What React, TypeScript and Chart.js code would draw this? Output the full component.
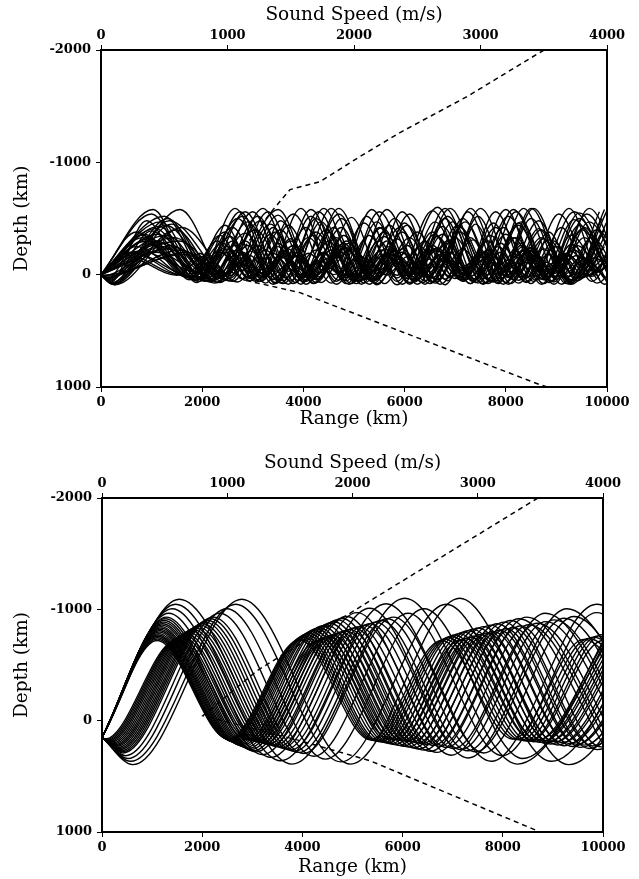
import React, { useEffect, useRef } from 'react';
import { Chart, registerables } from 'chart.js';

Chart.register(...registerables);

// ---------- tick labels ----------
const rangeTicks = [0, 2000, 4000, 6000, 8000, 10000];
const speedTicks = [0, 1000, 2000, 3000, 4000];
const depthTicks = [-2000, -1000, 0, 1000];

// ---------- sound speed profiles (speed m/s, depth km) ----------
const topProfileSpeed = [3502, 2893, 2364, 2047, 1731, 1494, 1360, 1000, 1123, 1573, 3470, 3530];
const topProfileDepth = [-2000, -1585, -1265, -1051, -828, -757, -579, -50, 45, 160, 980, 1000];
const bottomProfileSpeed = [3480, 2116, 1238, 806, 1581, 2140, 3473, 3490];
const bottomProfileDepth = [-2000, -1060, -449, -45, 180, 360, 988, 1000];

// ---------- ray turning points, upper panel (range km, depth km pairs) ----------
const topRays: number[][] = [
  [0, 0, 1030, -580, 1850, 50, 2600, -420, 3250, 75, 3950, -590, 4650, 85, 5300, -350, 5850, 30, 6550, -570, 7300, 80, 7950, -420, 8550, 60, 9250, -590, 9950, 85, 10600, -450],
  [0, 0, 220, 85, 1560, -580, 2500, 40, 3500, -580, 4250, 70, 4850, -300, 5400, 45, 6100, -540, 6800, 90, 7500, -590, 8250, 75, 8850, -310, 9400, 30, 10050, -520],
  [0, 0, 1250, -520, 2150, 65, 2900, -470, 3600, 55, 4300, -560, 5050, 80, 5700, -440, 6350, 70, 7000, -330, 7550, 40, 8200, -560, 8950, 85, 9650, -470, 10300, 60],
  [0, 0, 180, 70, 900, -480, 1750, 45, 2450, -380, 3050, 60, 3800, -540, 4550, 75, 5200, -460, 5850, 90, 6650, -600, 7400, 70, 8000, -360, 8600, 50, 9350, -560, 10100, 80],
  [0, 0, 260, 90, 1400, -450, 2300, 70, 3100, -520, 3800, 80, 4450, -400, 5050, 55, 5700, -250, 6150, 20, 6800, -500, 7450, 75, 8150, -580, 8900, 60, 9500, -400, 10100, 50],
  [0, 0, 1150, -430, 2000, 30, 2750, -560, 3450, 80, 4100, -330, 4700, 50, 5350, -580, 6100, 85, 6750, -430, 7350, 55, 7900, -280, 8400, 30, 9050, -540, 9800, 75, 10400, -300],
  [0, 0, 700, -380, 1700, 20, 2300, -300, 2850, 50, 3400, -420, 4000, 60, 4550, -250, 5000, 20, 5600, -380, 6200, 55, 6800, -200, 7200, 10, 7800, -420, 8400, 60, 8950, -300, 9450, 30, 10000, -380],
  [0, 0, 120, 40, 800, -350, 1800, 35, 2350, -220, 2800, 40, 3350, -360, 3900, 50, 4400, -190, 4800, 15, 5300, -350, 5850, 60, 6400, -300, 6900, 30, 7400, -450, 8000, 70, 8500, -240, 8950, 20, 9550, -420, 10150, 55],
  [0, 0, 950, -320, 1900, 50, 2550, -340, 3150, 60, 3650, -180, 4050, 20, 4600, -420, 5200, 75, 5750, -220, 6200, 25, 6750, -360, 7350, 60, 7900, -200, 8300, 20, 8850, -380, 9400, 55, 9950, -250],
  [0, 0, 150, 50, 1100, -300, 2000, 45, 2650, -260, 3150, 30, 3700, -440, 4350, 70, 4900, -280, 5450, 40, 6000, -460, 6600, 75, 7150, -230, 7650, 35, 8250, -460, 8850, 70, 9400, -260, 9950, 35],
  [0, 0, 1250, -280, 2100, 55, 2700, -220, 3200, 25, 3750, -320, 4250, 45, 4750, -200, 5150, 15, 5650, -300, 6200, 45, 6700, -180, 7100, 20, 7700, -350, 8250, 50, 8750, -230, 9200, 25, 9800, -400, 10400, 60],
  [0, 0, 100, 30, 1400, -260, 2200, 40, 2800, -180, 3250, 10, 3800, -260, 4300, 35, 4800, -350, 5350, 60, 5900, -160, 6300, 10, 6850, -280, 7350, 40, 7800, -160, 8200, 15, 8750, -320, 9300, 50, 9850, -200],
  [0, 0, 1500, -240, 2250, 50, 2850, -300, 3400, 45, 3900, -200, 4300, 20, 4850, -240, 5350, 35, 5850, -320, 6400, 55, 6900, -200, 7300, 15, 7850, -250, 8350, 40, 8850, -180, 9250, 15, 9800, -300],
  [0, 0, 80, 25, 1600, -220, 2350, 30, 2850, -150, 3250, 10, 3700, -230, 4150, 30, 4650, -160, 5050, 10, 5550, -220, 6050, 35, 6550, -260, 7100, 45, 7600, -140, 8000, 10, 8500, -240, 9000, 40, 9500, -150, 9950, 15],
  [0, 0, 600, -200, 1650, 10, 2100, -150, 2450, 0, 2850, -130, 3200, -10, 3600, -160, 3950, 5, 4350, -120, 4700, -10, 5100, -170, 5500, 10, 5900, -140, 6250, 0, 6650, -150, 7050, 10, 7450, -130, 7800, -5, 8200, -160, 8600, 15, 9000, -120, 9350, 0, 9750, -150, 10150, 10],
  [0, 0, 650, -190, 1800, 15, 2200, -120, 2550, 10, 2950, -170, 3350, 15, 3750, -110, 4100, 0, 4500, -150, 4900, 20, 5300, -120, 5650, 5, 6050, -160, 6450, 15, 6850, -120, 7200, 0, 7600, -150, 8000, 15, 8400, -110, 8750, 0, 9150, -160, 9550, 20, 9950, -120],
  [0, 0, 60, 15, 1700, -200, 2400, 20, 2750, -100, 3100, 0, 3500, -140, 3900, 20, 4250, -100, 4600, 0, 5000, -130, 5400, 20, 5750, -110, 6100, 0, 6500, -140, 6900, 15, 7300, -100, 7650, 0, 8050, -130, 8450, 20, 8800, -110, 9150, 0, 9550, -140, 9950, 20],
  [0, 0, 750, -210, 1950, -20, 2350, -200, 2800, -40, 3250, -220, 3700, -30, 4100, -190, 4500, -50, 4950, -230, 5400, -30, 5800, -180, 6200, -40, 6650, -220, 7100, -30, 7500, -200, 7900, -50, 8350, -220, 8800, -30, 9200, -190, 9600, -40, 10050, -210],
  [0, 0, 200, 75, 1320, -500, 2200, 55, 3000, -560, 3700, 85, 4350, -470, 5000, 60, 5600, -340, 6150, 40, 6900, -590, 7650, 80, 8300, -470, 8950, 65, 9650, -590, 10350, 85],
  [0, 0, 1080, -410, 1950, 35, 2700, -500, 3450, 70, 4150, -580, 4900, 85, 5500, -300, 6000, 35, 6600, -470, 7300, 80, 8000, -580, 8700, 85, 9300, -350, 9850, 40],
  [0, 0, 250, 80, 1480, -400, 2400, 60, 3200, -590, 3950, 85, 4700, -540, 5400, 75, 6050, -440, 6650, 60, 7250, -560, 7950, 85, 8650, -480, 9300, 70, 9950, -580],
  [0, 0, 850, -360, 1780, 25, 2450, -440, 3100, 60, 3750, -300, 4300, 40, 4950, -510, 5600, 80, 6250, -380, 6850, 55, 7450, -520, 8100, 80, 8700, -330, 9300, 45, 9900, -500],
  [0, 0, 1000, -540, 1900, 70, 2650, -590, 3400, 85, 4050, -420, 4650, 60, 5250, -520, 5950, 85, 6600, -360, 7150, 50, 7800, -560, 8500, 80, 9100, -420, 9700, 60, 10350, -560],
  [0, 0, 230, 80, 1350, -480, 2600, 60, 3350, -450, 4000, 65, 4700, -590, 5450, 90, 6100, -330, 6650, 45, 7300, -590, 8050, 85, 8700, -400, 9300, 55, 10000, -570],
  [0, 0, 900, -300, 1850, 40, 2500, -250, 3000, 30, 3550, -480, 4200, 75, 4800, -350, 5400, 55, 5950, -200, 6350, 15, 6950, -470, 7600, 75, 8200, -330, 8750, 45, 9300, -210, 9700, 15, 10250, -450],
  [0, 0, 90, 35, 1200, -250, 2050, 35, 2600, -300, 3100, 45, 3600, -200, 4000, 25, 4500, -300, 5000, 50, 5500, -420, 6100, 70, 6650, -240, 7100, 30, 7650, -300, 8150, 45, 8600, -180, 9000, 20, 9550, -330, 10100, 55],
  [0, 0, 1350, -230, 2150, 20, 2650, -170, 3050, 0, 3500, -280, 4050, 45, 4550, -220, 5000, 25, 5450, -150, 5850, 5, 6300, -250, 6800, 40, 7300, -330, 7850, 55, 8350, -210, 8800, 25, 9300, -270, 9800, 40],
  [0, 0, 550, -170, 1550, 0, 2000, -160, 2400, 10, 2800, -200, 3200, 20, 3600, -150, 3950, 0, 4400, -200, 4850, 25, 5250, -140, 5600, 0, 6000, -190, 6400, 20, 6800, -160, 7150, 0, 7600, -200, 8050, 25, 8450, -140, 8800, 0, 9200, -180, 9600, 15, 10000, -140],
  [0, 0, 40, 10, 1100, -200, 2050, -10, 2500, -230, 2950, -20, 3400, -190, 3800, -40, 4250, -220, 4700, -20, 5100, -170, 5500, -40, 5950, -230, 6400, -20, 6800, -180, 7200, -40, 7650, -220, 8100, -20, 8500, -180, 8900, -40, 9350, -220, 9800, -20, 10200, -180],
  [0, 0, 160, 60, 1000, -390, 1950, 60, 2800, -520, 3550, 75, 4200, -350, 4800, 50, 5500, -560, 6250, 85, 6850, -300, 7400, 40, 8050, -520, 8750, 80, 9450, -550, 10150, 80],
  [0, 0, 1300, -350, 2250, 75, 3050, -400, 3750, 55, 4400, -590, 5150, 85, 5800, -500, 6500, 80, 7100, -380, 7700, 55, 8350, -590, 9100, 85, 9700, -330, 10250, 40],
  [0, 0, 1450, -330, 2450, 45, 3100, -260, 3650, 30, 4250, -500, 4950, 80, 5650, -580, 6400, 85, 7050, -440, 7700, 65, 8300, -280, 8800, 30, 9450, -500, 10100, 75],
  [0, 0, 280, 90, 1600, -420, 2700, 65, 3500, -530, 4200, 80, 4800, -280, 5300, 30, 5900, -420, 6550, 70, 7150, -500, 7850, 80, 8500, -590, 9250, 85, 9900, -380],
  [0, 0, 700, -250, 1750, 25, 2350, -350, 2950, 55, 3500, -250, 3950, 30, 4500, -380, 5100, 60, 5600, -180, 6000, 10, 6550, -380, 7150, 60, 7650, -220, 8100, 25, 8650, -410, 9250, 65, 9800, -250],
  [0, 0, 1180, -470, 2050, 60, 2850, -560, 3600, 80, 4250, -380, 4850, 55, 5450, -470, 6100, 75, 6800, -590, 7550, 85, 8150, -330, 8700, 40, 9350, -490, 10000, 70],
  [0, 0, 130, 45, 980, -270, 1900, 25, 2450, -200, 2900, 20, 3450, -380, 4050, 60, 4650, -330, 5200, 45, 5700, -190, 6100, 10, 6650, -340, 7200, 50, 7750, -460, 8400, 70, 9000, -250, 9500, 30, 10050, -360],
  [0, 0, 1550, -300, 2550, 55, 3300, -560, 4050, 85, 4750, -420, 5350, 60, 5950, -560, 6700, 85, 7350, -310, 7900, 35, 8500, -500, 9200, 80, 9850, -560],
  [0, 0, 500, -160, 1500, 5, 1950, -190, 2400, 15, 2900, -260, 3400, 40, 3850, -170, 4250, 10, 4700, -260, 5200, 40, 5650, -180, 6050, 10, 6500, -250, 7000, 35, 7450, -170, 7850, 5, 8300, -260, 8800, 40, 9250, -170, 9650, 10, 10100, -250],
  [0, 0, 210, 75, 1280, -440, 2350, 70, 3150, -480, 3850, 70, 4550, -590, 5300, 85, 5950, -380, 6550, 60, 7200, -470, 7850, 70, 8550, -590, 9300, 85, 9950, -400],
  [0, 0, 820, -330, 1750, 30, 2400, -280, 2950, 35, 3550, -400, 4150, 55, 4750, -500, 5450, 80, 6050, -260, 6550, 30, 7100, -420, 7750, 65, 8350, -250, 8850, 25, 9450, -440, 10100, 65],
  [0, 0, 30, 5, 1650, -180, 2500, -10, 2950, -210, 3450, -30, 3900, -170, 4300, -20, 4800, -240, 5300, -20, 5700, -160, 6100, -30, 6600, -230, 7100, -10, 7550, -190, 8000, -30, 8450, -220, 8950, -10, 9400, -170, 9800, -30, 10300, -230],
  [0, 0, 1120, -360, 2100, 60, 2850, -370, 3500, 45, 4150, -520, 4850, 80, 5550, -420, 6200, 65, 6850, -520, 7550, 80, 8250, -440, 8900, 60, 9600, -540, 10300, 80],
];

// ---------- ray turning points, lower panel ----------
const bottomRays: number[][] = [
  [0, 150, 1100, -720, 2520, 165, 3940, -725, 5360, 170, 6780, -720, 8200, 165, 9620, -730, 11040, 170],
  [0, 150, 1105, -732, 2540, 170, 3975, -735, 5410, 175, 6845, -732, 8280, 170, 9715, -738, 11150, 175],
  [0, 150, 1110, -745, 2560, 175, 4010, -750, 5460, 180, 6910, -745, 8360, 175, 9810, -750, 11260, 180],
  [0, 150, 1115, -758, 2580, 180, 4045, -760, 5510, 185, 6975, -758, 8440, 180, 9905, -762, 11370, 185],
  [0, 150, 1120, -770, 2600, 185, 4080, -775, 5560, 190, 7040, -770, 8520, 185, 10000, -775, 11480, 190],
  [0, 150, 1130, -782, 2630, 190, 4130, -785, 5630, 195, 7130, -782, 8630, 190, 10130, -785],
  [0, 150, 1140, -795, 2660, 195, 4180, -800, 5700, 200, 7220, -795, 8740, 195, 10260, -800],
  [0, 150, 1150, -808, 2690, 202, 4230, -810, 5770, 207, 7310, -808, 8850, 202, 10390, -810],
  [0, 150, 1160, -820, 2720, 210, 4280, -825, 5840, 215, 7400, -820, 8960, 210, 10520, -825],
  [0, 150, 1170, -832, 2755, 218, 4340, -835, 5925, 222, 7510, -832, 9095, 218, 10680, -835],
  [0, 150, 1180, -845, 2790, 225, 4400, -850, 6010, 230, 7620, -845, 9230, 225, 10840, -850],
  [0, 150, 1195, -858, 2835, 232, 4475, -860, 6115, 237, 7755, -858, 9395, 232, 11035, -860],
  [0, 150, 1210, -870, 2880, 240, 4550, -875, 6220, 245, 7890, -870, 9560, 240, 11230, -875],
  [0, 150, 1225, -885, 2925, 250, 4625, -888, 6325, 255, 8025, -885, 9725, 250, 11425, -888],
  [0, 150, 1240, -900, 2970, 260, 4700, -905, 6430, 265, 8160, -900, 9890, 260, 11620, -905],
  [0, 150, 1260, -915, 3025, 270, 4790, -918, 6555, 275, 8320, -915, 10085, 270],
  [0, 150, 1280, -930, 3080, 280, 4880, -935, 6680, 285, 8480, -930, 10280, 280],
  [0, 150, 1330, -965, 3210, 305, 5090, -970, 6970, 310, 8850, -965, 10730, 305],
  [0, 150, 1400, -1005, 3370, 330, 5340, -1010, 7310, 335, 9280, -1005, 11250, 330],
  [0, 150, 1470, -1045, 3570, 360, 5670, -1050, 7770, 365, 9870, -1045, 11970, 360],
  [0, 150, 1545, -1090, 3795, 390, 6045, -1100, 8295, 390, 10545, -1095],
  [0, 150, 60, 165, 1480, -720, 2900, 170, 4320, -720, 5740, 165, 7160, -725, 8580, 170, 10000, -720, 11420, 165],
  [0, 150, 85, 170, 1520, -732, 2955, 175, 4390, -732, 5825, 170, 7260, -738, 8695, 175, 10130, -732],
  [0, 150, 110, 175, 1560, -745, 3010, 180, 4460, -745, 5910, 175, 7360, -750, 8810, 180, 10260, -745],
  [0, 150, 135, 180, 1600, -758, 3065, 185, 4530, -758, 5995, 180, 7460, -762, 8925, 185, 10390, -758],
  [0, 150, 160, 185, 1640, -770, 3120, 190, 4600, -770, 6080, 185, 7560, -775, 9040, 190, 10520, -770],
  [0, 150, 185, 192, 1685, -782, 3185, 197, 4685, -782, 6185, 192, 7685, -787, 9185, 197, 10685, -782],
  [0, 150, 210, 200, 1730, -795, 3250, 205, 4770, -795, 6290, 200, 7810, -800, 9330, 205, 10850, -795],
  [0, 150, 235, 207, 1775, -808, 3315, 212, 4855, -808, 6395, 207, 7935, -812, 9475, 212, 11015, -808],
  [0, 150, 260, 215, 1820, -820, 3380, 220, 4940, -820, 6500, 215, 8060, -825, 9620, 220, 11180, -820],
  [0, 150, 280, 222, 1865, -832, 3450, 227, 5035, -832, 6620, 222, 8205, -837, 9790, 227, 11375, -832],
  [0, 150, 300, 230, 1910, -845, 3520, 235, 5130, -845, 6740, 230, 8350, -850, 9960, 235, 11570, -845],
  [0, 150, 320, 240, 1960, -858, 3600, 245, 5240, -858, 6880, 240, 8520, -862, 10160, 245],
  [0, 150, 340, 250, 2010, -870, 3680, 255, 5350, -870, 7020, 250, 8690, -875, 10360, 255],
  [0, 150, 360, 260, 2060, -885, 3760, 265, 5460, -885, 7160, 260, 8860, -890, 10560, 265],
  [0, 150, 380, 270, 2110, -900, 3840, 275, 5570, -900, 7300, 270, 9030, -905, 10760, 275],
  [0, 150, 400, 280, 2165, -915, 3930, 285, 5695, -915, 7460, 280, 9225, -920, 10990, 285],
  [0, 150, 420, 290, 2220, -930, 4020, 295, 5820, -930, 7620, 290, 9420, -935, 11220, 295],
  [0, 150, 470, 315, 2350, -965, 4230, 320, 6110, -965, 7990, 315, 9870, -970, 11750, 320],
  [0, 150, 520, 340, 2490, -1005, 4460, 345, 6430, -1005, 8400, 340, 10370, -1010],
  [0, 150, 570, 365, 2670, -1045, 4770, 370, 6870, -1045, 8970, 365, 11070, -1050],
  [0, 150, 615, 395, 2790, -1090, 4965, 390, 7140, -1100, 9315, 395, 11490, -1095],
];

type Geo = {
  width: number;
  height: number;
  padRight: number;
  yWidth: number;
  topHeight: number;
  bottomHeight: number;
  topTitlePad: number;
  bottomTitlePad: number;
  topTickPad: number;
  bottomTickPad: number;
};

const TICK_FONT = { family: "'DejaVu Serif', serif", size: 13, weight: 'bold' as const };
const TITLE_FONT = { family: "'DejaVu Serif', serif", size: 18.5, weight: 'normal' as const };

function pairs(flat: number[]) {
  const out: { x: number; y: number }[] = [];
  for (let i = 0; i + 1 < flat.length; i += 2) out.push({ x: flat[i], y: flat[i + 1] });
  return out;
}

const framePlugin = {
  id: 'frame',
  afterDatasetsDraw(chart: any) {
    const { ctx, chartArea: a } = chart;
    ctx.save();
    ctx.strokeStyle = '#000';
    ctx.lineWidth = 2;
    ctx.strokeRect(a.left, a.top, a.right - a.left, a.bottom - a.top);
    ctx.restore();
  },
};

function Panel(props: { rays: number[][]; speed: number[]; depth: number[]; geo: Geo }) {
  const ref = useRef<HTMLCanvasElement | null>(null);
  const { rays, speed, depth, geo } = props;
  useEffect(() => {
    if (!ref.current) return;
    const datasets: any[] = rays.map((r) => ({
      data: pairs(r),
      borderColor: '#000',
      borderWidth: 1.4,
      pointRadius: 0,
      fill: false,
      cubicInterpolationMode: 'monotone',
      xAxisID: 'x',
      yAxisID: 'y',
    }));
    datasets.push({
      data: speed.map((s, i) => ({ x: s, y: depth[i] })),
      borderColor: '#000',
      borderWidth: 1.5,
      borderDash: [5, 4],
      pointRadius: 0,
      fill: false,
      tension: 0,
      xAxisID: 'x2',
      yAxisID: 'y',
    });
    const grid = { display: true, drawOnChartArea: false, drawTicks: true, tickLength: 5, color: '#000', lineWidth: 1 };
    const chart = new Chart(ref.current, {
      type: 'line',
      data: { datasets },
      plugins: [framePlugin],
      options: {
        animation: false,
        responsive: false,
        events: [],
        layout: { padding: { left: 0, right: geo.padRight, top: 0, bottom: 0 } },
        plugins: { legend: { display: false }, tooltip: { enabled: false } },
        scales: {
          x: {
            type: 'linear',
            position: 'bottom',
            min: 0,
            max: 10000,
            afterBuildTicks: (s: any) => { s.ticks = rangeTicks.map((v) => ({ value: v })); },
            afterFit: (s: any) => { s.height = geo.bottomHeight; },
            ticks: { autoSkip: false, maxRotation: 0, padding: geo.bottomTickPad, color: '#000', font: TICK_FONT, callback: (v: any) => String(v) },
            grid,
            border: { display: false },
            title: { display: true, text: 'Range (km)', color: '#000', font: TITLE_FONT, padding: { top: 0, bottom: geo.bottomTitlePad } },
          },
          x2: {
            type: 'linear',
            position: 'top',
            min: 0,
            max: 4000,
            afterBuildTicks: (s: any) => { s.ticks = speedTicks.map((v) => ({ value: v })); },
            afterFit: (s: any) => { s.height = geo.topHeight; },
            ticks: { autoSkip: false, maxRotation: 0, padding: geo.topTickPad, color: '#000', font: TICK_FONT, callback: (v: any) => String(v) },
            grid,
            border: { display: false },
            title: { display: true, text: 'Sound Speed (m/s)', color: '#000', font: TITLE_FONT, padding: { top: geo.topTitlePad, bottom: 0 } },
          },
          y: {
            type: 'linear',
            position: 'left',
            reverse: true,
            min: -2000,
            max: 1000,
            afterBuildTicks: (s: any) => { s.ticks = depthTicks.map((v) => ({ value: v })); },
            afterFit: (s: any) => { s.width = geo.yWidth; },
            ticks: { autoSkip: false, padding: 5, color: '#000', font: TICK_FONT, callback: (v: any) => String(v) },
            grid,
            border: { display: false },
            title: { display: true, text: 'Depth (km)', color: '#000', font: TITLE_FONT, padding: { top: 11, bottom: 0 } },
          },
        },
      } as any,
    });
    return () => chart.destroy();
  }, [rays, speed, depth, geo]);
  return <canvas ref={ref} width={geo.width} height={geo.height} style={{ display: 'block' }} />;
}

const topGeo: Geo = { width: 639, height: 440, padRight: 32, yWidth: 101, topHeight: 50, bottomHeight: 53, topTitlePad: 4, bottomTitlePad: 10, topTickPad: 2, bottomTickPad: 3 };
const bottomGeo: Geo = { width: 639, height: 439, padRight: 36, yWidth: 102, topHeight: 58, bottomHeight: 47, topTitlePad: 12, bottomTitlePad: 1, topTickPad: 2, bottomTickPad: 3 };

export default function App() {
  return (
    <div style={{ position: 'absolute', left: 0, top: 0, width: 639, height: 879, background: '#fff' }}>
      <Panel rays={topRays} speed={topProfileSpeed} depth={topProfileDepth} geo={topGeo} />
      <Panel rays={bottomRays} speed={bottomProfileSpeed} depth={bottomProfileDepth} geo={bottomGeo} />
    </div>
  );
}
